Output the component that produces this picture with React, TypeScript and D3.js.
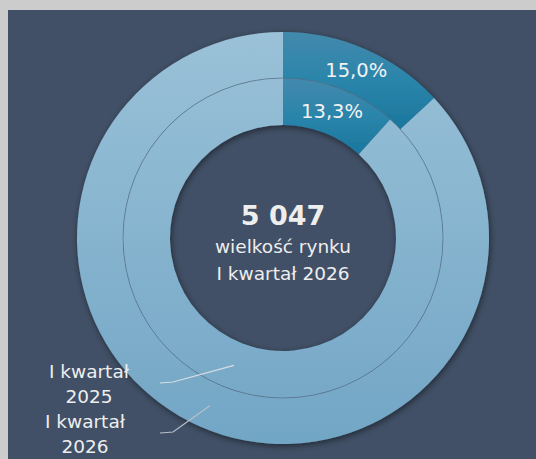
import * as d3 from 'd3';
import React from 'react';

// market share, I kwartał 2025 (inner) and I kwartał 2026 (outer)
// slice sizes as drawn in the picture; labels as printed on it
const seriesNames = ['I kwartał 2025', 'I kwartał 2026'];
const innerValues = [11.7, 88.3];
const outerValues = [13.1, 86.9];
const shareLabels = ['13,3%', '15,0%'];
const totalLabel = '5 047';
const subtitleLines = ['wielkość rynku', 'I kwartał 2026'];

const W = 536;
const H = 459;
const cx = 283;
const cy = 238;
const rInner = 113;
const rMid = 160;
const rOuter = 206;
const font = '"DejaVu Sans", Verdana, sans-serif';

export default function App() {
  const pie = d3.pie<number>().sort(null).value(d => d);
  const innerArcs = pie(innerValues);
  const outerArcs = pie(outerValues);
  const innerArc = d3.arc<d3.PieArcDatum<number>>().innerRadius(rInner).outerRadius(rMid);
  const outerArc = d3.arc<d3.PieArcDatum<number>>().innerRadius(rMid).outerRadius(rOuter);

  const fills = ['url(#darkGrad)', 'url(#lightGrad)'];

  // connector from legend label to the light slice
  const connector = (a: d3.PieArcDatum<number>, r: number, tx: number, ty: number) => {
    const mid = (a.startAngle + a.endAngle) / 2;
    const px = cx + r * Math.sin(mid);
    const py = cy - r * Math.cos(mid);
    return d3.line()([[tx, ty], [tx + 13, ty - 1], [px, py]]) as string;
  };

  return (
    <div style={{ position: 'fixed', left: 0, top: 0, width: W, height: H, background: '#cccccc' }}>
      <svg width={W} height={H} style={{ display: 'block' }}>
        <defs>
          <linearGradient id="lightGrad" gradientUnits="userSpaceOnUse" x1={0} y1={-rOuter} x2={0} y2={rOuter}>
            <stop offset="0" stopColor="#9ac1d8" />
            <stop offset="1" stopColor="#72a6c5" />
          </linearGradient>
          <linearGradient id="darkGrad" x1={0} y1={0} x2={0} y2={1}>
            <stop offset="0" stopColor="#4389ac" />
            <stop offset="0.5" stopColor="#2a85ab" />
            <stop offset="1" stopColor="#1b769c" />
          </linearGradient>
          <filter id="shadow" x="-20%" y="-20%" width="140%" height="140%">
            <feDropShadow dx={1} dy={2} stdDeviation={3} floodColor="#000" floodOpacity={0.5} />
          </filter>
        </defs>
        <rect x={8} y={10} width={W - 8} height={H - 10} fill="#415066" />
        <g transform={`translate(${cx},${cy})`}>
          <g filter="url(#shadow)">
            {outerArcs.map((a, i) => (
              <path key={'o' + i} d={outerArc(a) as string} fill={fills[i]} />
            ))}
            {innerArcs.map((a, i) => (
              <path key={'i' + i} d={innerArc(a) as string} fill={fills[i]} />
            ))}
          </g>
          <circle r={rMid} fill="none" stroke="#56718a" strokeWidth={0.7} />
          {/* dark slice share labels */}
          {[innerArcs[0], outerArcs[0]].map((a, i) => {
            const c = (i === 0 ? innerArc : outerArc).centroid(a);
            return (
              <text key={'s' + i} x={c[0]} y={c[1] + 7} textAnchor="middle"
                fill="#f2f2f2" fontSize={19.5} fontFamily={font}>{shareLabels[i]}</text>
            );
          })}
        </g>
        <text x={cx} y={225} textAnchor="middle" fill="#eeeeee" fontSize={27} fontWeight="bold" fontFamily={font}>{totalLabel}</text>
        {subtitleLines.map((s, i) => (
          <text key={s} x={cx} y={253 + i * 27} textAnchor="middle" fill="#eeeeee" fontSize={18.5} fontFamily={font}>{s}</text>
        ))}
        {/* series labels with connectors */}
        <path d={connector(innerArcs[1], 136.5, 160, 383)} fill="none" stroke="#d8dde3" strokeWidth={1.2} />
        <path d={connector(outerArcs[1], 183, 160, 433)} fill="none" stroke="#b8c0ca" strokeWidth={1.2} />
        {seriesNames.map((name, i) => {
          const parts = name.split(' ');
          const x = i === 0 ? 89 : 85;
          const y = i === 0 ? 378 : 428;
          return (
            <text key={name} x={x} textAnchor="middle" fill="#eeeeee" fontSize={18.5} fontFamily={font}>
              <tspan x={x} y={y}>{parts.slice(0, 2).join(' ')}</tspan>
              <tspan x={x} y={y + 25}>{parts[2]}</tspan>
            </text>
          );
        })}
      </svg>
    </div>
  );
}
